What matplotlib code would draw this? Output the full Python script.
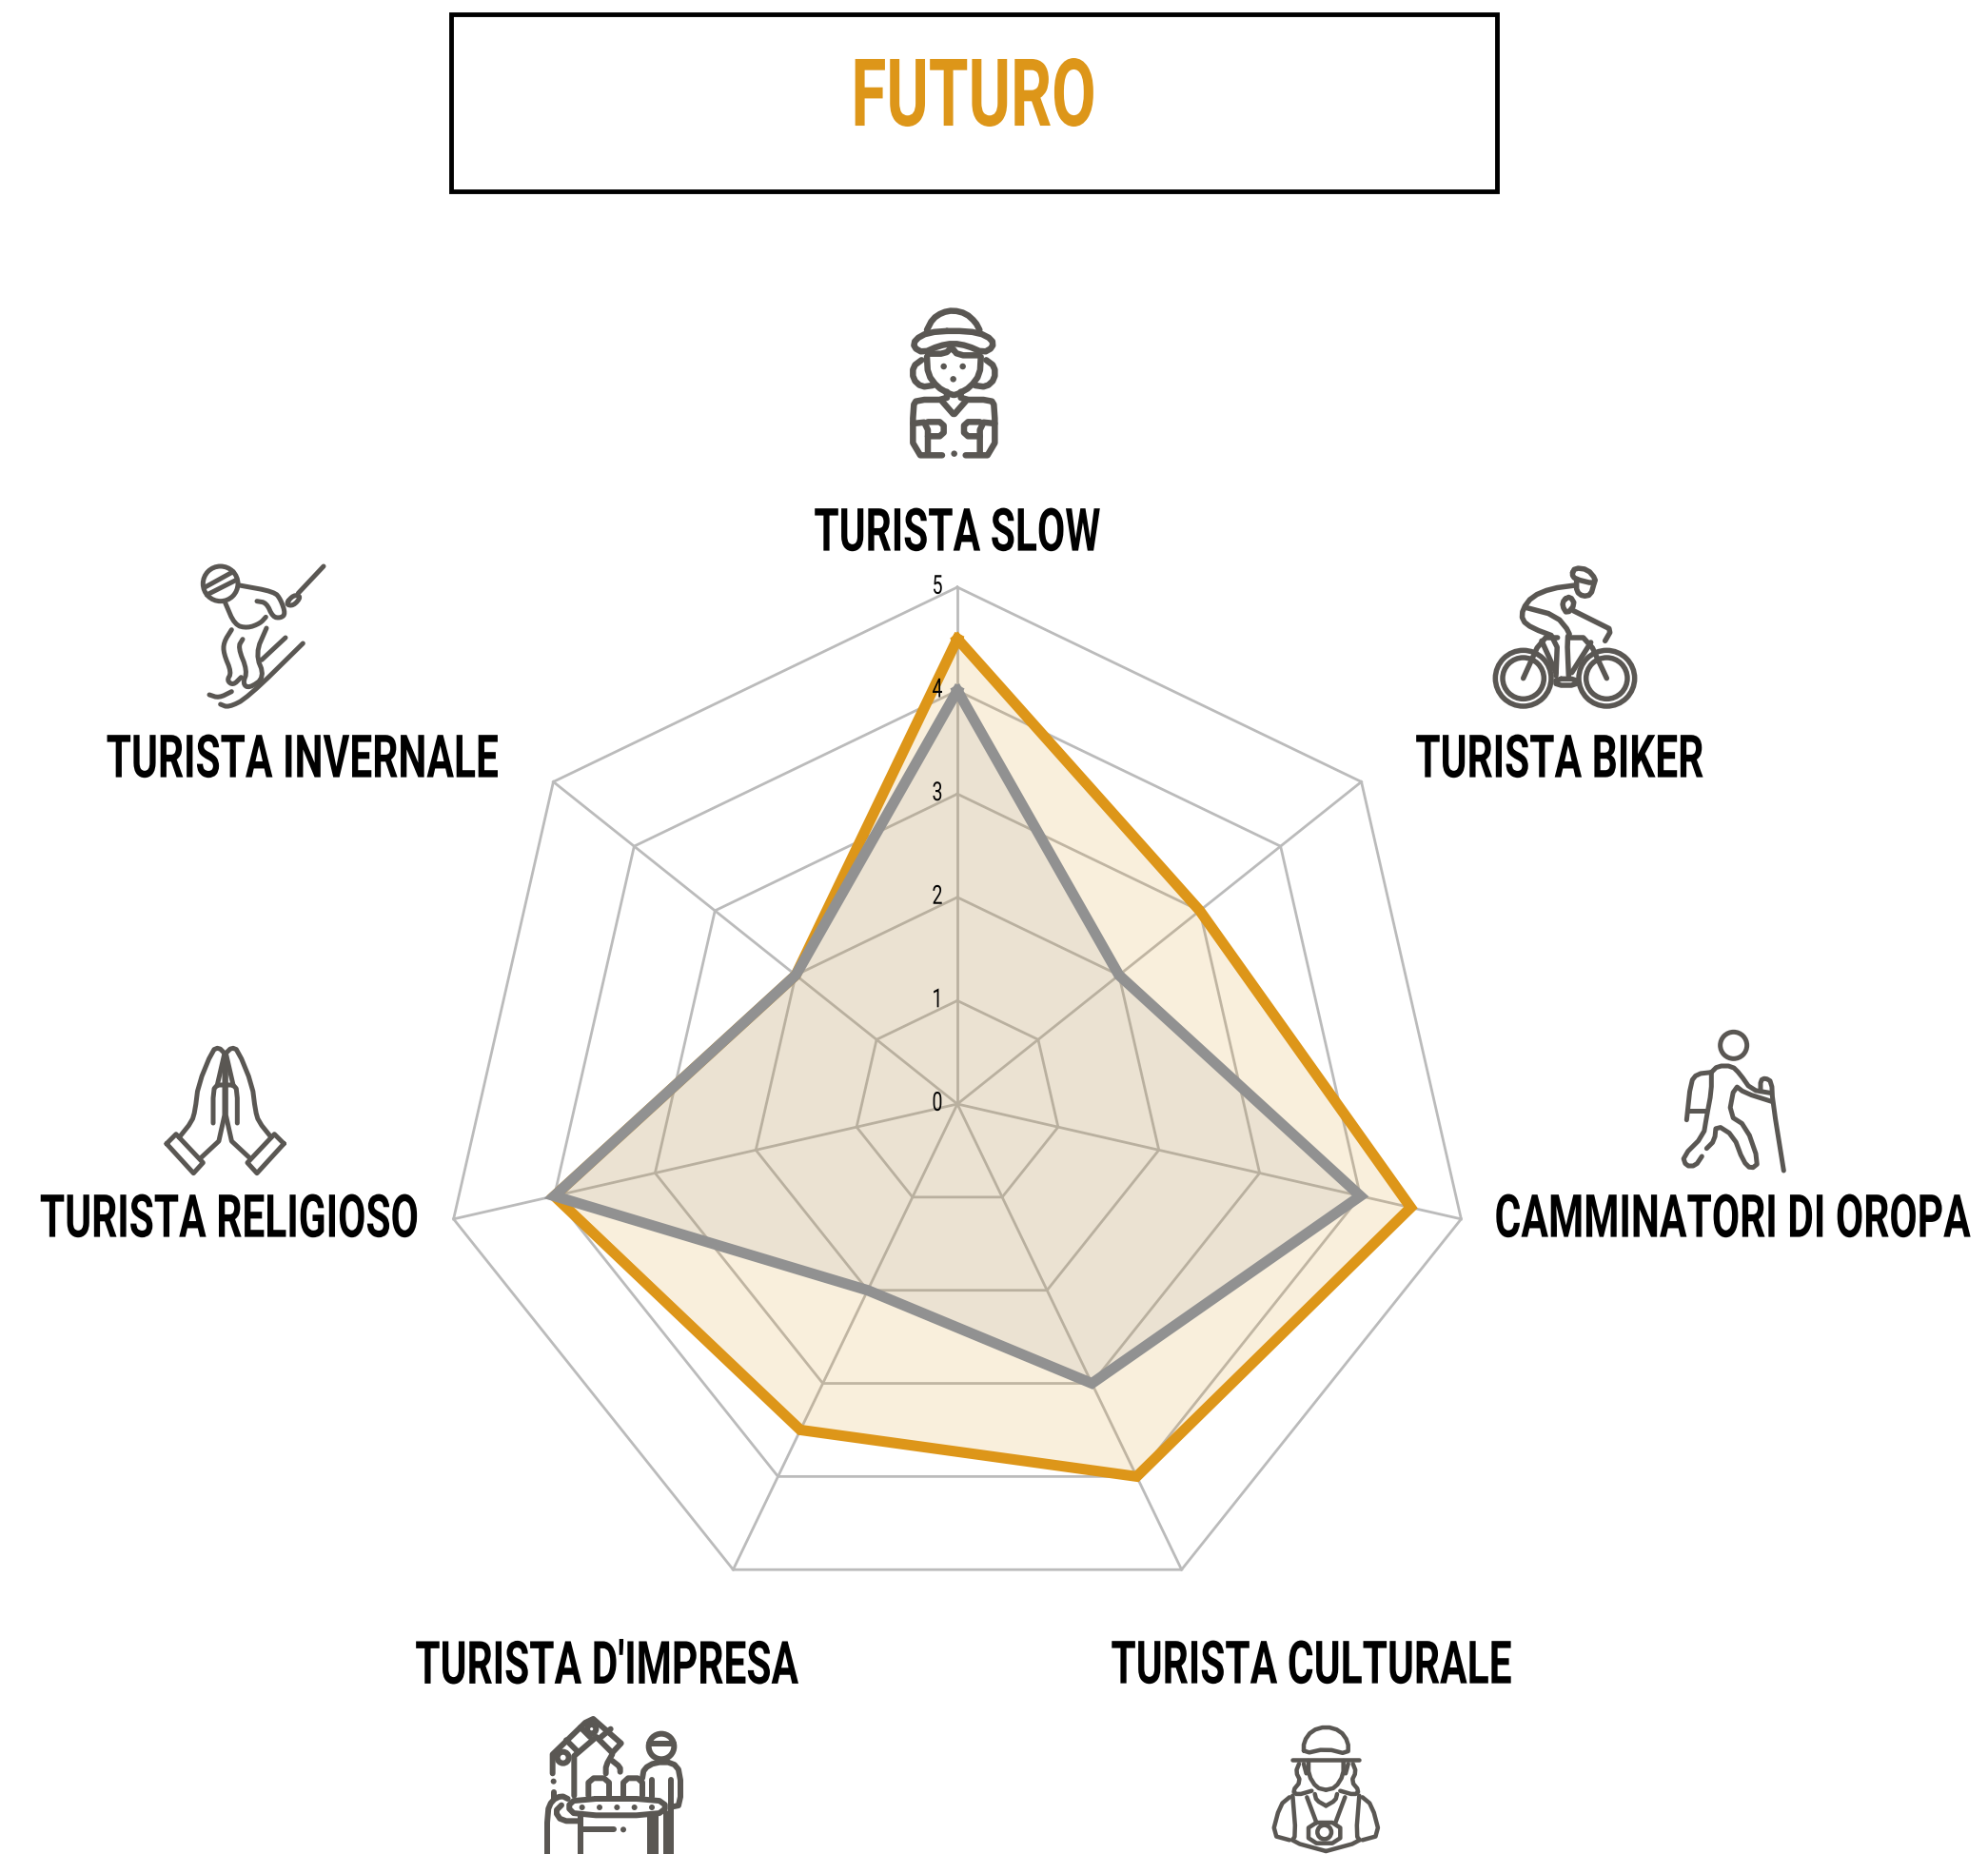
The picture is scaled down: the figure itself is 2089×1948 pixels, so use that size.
import numpy as np
import matplotlib
matplotlib.use('Agg')
import matplotlib.pyplot as plt
from matplotlib.patches import Rectangle, Circle
from matplotlib.patheffects import AbstractPathEffect
from matplotlib.transforms import Affine2D

categories = ['TURISTA SLOW', 'TURISTA BIKER', 'CAMMINATORI DI OROPA', 'TURISTA CULTURALE',
              "TURISTA D'IMPRESA", 'TURISTA RELIGIOSO', 'TURISTA INVERNALE']
futuro = [4.5, 3.0, 4.5, 4.0, 3.5, 4.0, 2.0]
attuale = [4.0, 2.0, 4.0, 3.0, 2.0, 4.0, 2.0]
levels = [0, 1, 2, 3, 4, 5]

# label centres, in pixels of the full picture
label_pos = [(1006, 560), (1639, 798), (1821, 1281), (1378, 1750), (638, 1750), (241, 1281), (318, 798)]

ORANGE = '#DD9619'
GREY = '#919191'
GRID = '#BBBBBB'
ICON = '#5A5753'
FONT = ['Roboto', 'DejaVu Sans']

W, H = 2089, 1948
CX, CY, R = 1006, 1160, 543


class Tall(AbstractPathEffect):
    """Stretch glyphs vertically to get the look of a condensed font, none is installed."""
    def __init__(self, k):
        super().__init__()
        self.k = k

    def draw_path(self, renderer, gc, tpath, affine, rgbFace=None):
        b = tpath.get_extents(affine)
        c = (b.y0 + b.y1) / 2
        t = affine + Affine2D().translate(0, -c).scale(1, self.k).translate(0, c)
        renderer.draw_path(gc, tpath, t, rgbFace)


def chaikin(pts, n=2):
    """Round off a polyline by corner cutting."""
    pts = np.array(pts, dtype=float)
    closed = np.allclose(pts[0], pts[-1])
    for _ in range(n):
        a, b = pts[:-1], pts[1:]
        q = 0.75 * a + 0.25 * b
        r = 0.25 * a + 0.75 * b
        new = np.empty((2 * len(a), 2))
        new[0::2], new[1::2] = q, r
        if closed:
            new = np.vstack([new, new[0]])
        else:
            new = np.vstack([pts[0], new, pts[-1]])
        pts = new
    return pts


def draw_icon(ax, x0, y0, strokes, circles, dots, lw, n=2):
    """Icon outlines are given in 3x zoom coordinates from (x0, y0)."""
    for s in strokes:
        p = chaikin(s, n)
        ax.plot(x0 + p[:, 0] / 3, y0 + p[:, 1] / 3, color=ICON, lw=lw * 0.72,
                solid_capstyle='round', solid_joinstyle='round')
    for cx, cy, r in circles:
        ax.add_patch(Circle((x0 + cx / 3, y0 + cy / 3), r / 3, fill=False, ec=ICON, lw=lw * 0.72))
    for cx, cy in dots:
        ax.add_patch(Circle((x0 + cx / 3, y0 + cy / 3), lw * 0.5, fc=ICON, ec='none'))


def mirror(strokes, c):
    return [[(2 * c - x, y) for x, y in s] for s in strokes]


def icon_slow(ax):
    half = [[(222, 225), (225, 280), (255, 320), (290, 340), (305, 345)],
            [(205, 235), (178, 255), (178, 295), (205, 320), (240, 315)],
            [(285, 335), (285, 360), (190, 360), (178, 380), (178, 535), (270, 535)],
            [(270, 365), (305, 405)],
            [(178, 435), (225, 430), (225, 530)],
            [(225, 430), (275, 430), (275, 475), (225, 475)]]
    strokes = half + mirror(half, 307)
    strokes += [[(222, 140), (240, 105), (270, 85), (305, 78), (345, 88), (375, 115), (388, 140)],
                [(305, 142), (225, 148), (185, 170), (180, 195), (210, 212), (260, 190), (305, 182),
                 (350, 190), (400, 212), (430, 195), (428, 170), (385, 148), (305, 142)],
                [(225, 215), (280, 215), (300, 195), (320, 220), (385, 220)]]
    draw_icon(ax, 900, 300, strokes, [], [(275, 255), (335, 255), (305, 295), (308, 530)], 6.5, n=1)


def icon_ski(ax):
    strokes = [[(108, 140), (195, 92)], [(112, 165), (205, 118)],
               [(215, 135), (325, 155), (345, 180), (360, 225), (345, 238), (320, 235), (300, 190), (270, 185)],
               [(170, 190), (200, 260), (240, 270), (280, 255), (298, 235)],
               [(190, 275), (165, 315), (165, 350), (190, 410), (175, 435), (195, 450), (220, 425)],
               [(225, 305), (210, 330), (240, 405), (225, 445), (245, 460), (295, 425), (265, 350), (300, 270)],
               [(400, 160), (480, 75)],
               [(360, 195), (385, 165), (410, 170), (385, 200), (360, 195)],
               [(120, 480), (150, 490), (190, 470)],
               [(155, 510), (180, 520), (240, 490), (415, 318)],
               [(285, 370), (360, 300)]]
    draw_icon(ax, 180, 570, strokes, [(155, 130, 55)], [], 5)


def icon_bike(ax):
    strokes = [[(335, 100), (345, 80), (385, 85), (410, 115), (405, 130), (345, 115), (335, 100)],
               [(350, 120), (350, 155), (370, 170), (395, 165), (405, 130)],
               [(345, 135), (270, 145), (210, 170), (180, 210), (178, 245), (210, 270), (290, 300), (285, 420)],
               [(190, 205), (285, 230), (330, 285), (320, 300), (325, 420)],
               [(340, 215), (430, 260), (460, 275), (440, 310)],
               [(310, 180), (330, 170), (345, 195), (320, 225), (305, 200), (310, 180)],
               [(330, 300), (385, 300), (445, 428)],
               [(290, 300), (240, 300), (182, 428)],
               [(240, 310), (285, 410)],
               [(335, 410), (395, 315)],
               [(285, 430), (350, 430), (350, 450), (285, 450), (285, 430)]]
    circles = [(182, 428, 88), (182, 428, 65), (445, 428, 88), (445, 428, 65)]
    draw_icon(ax, 1540, 570, strokes, circles, [], 5.5, n=1)


def icon_hike(ax):
    strokes = [[(175, 170), (195, 150), (240, 150), (265, 175), (300, 225), (360, 235)],
               [(175, 170), (175, 230), (160, 310), (150, 370), (85, 435), (95, 465), (125, 465), (145, 435)],
               [(160, 410), (185, 385), (190, 335), (245, 370), (275, 450), (300, 475), (325, 455), (285, 340),
                (230, 305), (248, 210), (280, 235), (365, 262)],
               [(330, 230), (330, 195), (345, 188), (365, 200), (368, 262), (403, 480)],
               [(175, 170), (130, 175), (110, 200), (97, 320)],
               [(105, 290), (155, 290)]]
    draw_icon(ax, 1740, 1070, strokes, [(245, 85, 42)], [], 5, n=1)


def icon_hands(ax):
    half = [[(228, 50), (210, 32), (190, 40), (145, 150), (135, 230), (125, 265), (85, 315)],
            [(228, 50), (228, 310), (155, 378)],
            [(228, 50), (205, 150)],
            [(192, 270), (192, 165), (205, 150), (228, 150)]]
    cuff = [[(45, 335), (75, 305), (160, 395), (130, 428), (45, 335)]]
    draw_icon(ax, 160, 1090, half + mirror(half, 230), [], [], 5, n=1)
    draw_icon(ax, 160, 1090, cuff + mirror(cuff, 230), [], [], 5, n=0)


def icon_factory(ax):
    arm = [[(62, 220), (62, 160), (165, 60), (190, 48), (215, 70), (278, 125), (250, 155), (200, 105),
            (130, 165), (130, 290)]]
    strokes = [[(105, 115), (140, 150)], [(150, 75), (180, 105)], [(215, 105), (245, 80)],
               [(250, 160), (230, 195), (230, 220)],
               [(250, 180), (275, 200), (275, 215)],
               [(175, 290), (175, 235), (240, 235), (240, 290)],
               [(285, 290), (285, 235), (345, 235), (345, 290)],
               [(365, 125), (445, 125)],
               [(345, 235), (350, 205), (385, 185), (440, 185), (465, 215), (465, 320), (440, 325)],
               [(375, 240), (375, 295)], [(435, 240), (435, 480)],
               [(135, 300), (390, 300), (425, 325), (390, 352), (135, 352), (108, 325), (135, 300)],
               [(45, 480), (45, 340), (60, 305), (90, 290), (110, 300)],
               [(90, 320), (70, 340), (90, 370), (150, 370)],
               [(150, 355), (150, 480)], [(370, 355), (370, 480)], [(388, 355), (388, 480)], [(420, 345), (420, 480)],
               [(150, 395), (255, 395)], [(65, 280), (65, 300)]]
    circles = [(185, 80, 14), (95, 170, 18), (405, 135, 40)]
    dots = [(155, 327), (210, 327), (265, 327), (320, 327), (375, 327), (285, 397), (65, 245)]
    draw_icon(ax, 560, 1790, arm, [], [], 6, n=0)
    draw_icon(ax, 560, 1790, strokes, circles, dots, 6, n=1)


def icon_tourist(ax):
    half = [[(165, 150), (165, 195), (190, 235), (220, 242)],
            [(135, 160), (125, 185), (140, 215), (115, 245), (130, 258), (175, 245)],
            [(150, 160), (158, 190)],
            [(185, 255), (190, 275), (220, 292)],
            [(160, 265), (190, 345)],
            [(105, 265), (75, 290), (50, 385), (105, 400)],
            [(115, 260), (125, 385), (110, 405), (220, 435)]]
    strokes = half + mirror(half, 220)
    strokes += [[(150, 128), (150, 90), (175, 55), (220, 42), (265, 55), (290, 90), (290, 130), (220, 112), (150, 128)],
                [(115, 148), (325, 148)],
                [(165, 345), (265, 345), (265, 410), (165, 410), (165, 345)]]
    draw_icon(ax, 1320, 1800, strokes, [(215, 375, 22)], [], 4.5, n=1)


def main():
    fig = plt.figure(figsize=(W / 100, H / 100), dpi=100)

    # radar chart
    ax = fig.add_axes([(CX - R) / W, 1 - (CY + R) / H, 2 * R / W, 2 * R / H], projection='polar')
    ax.set_theta_zero_location('N')
    ax.set_theta_direction(-1)
    ax.set_ylim(0, 5)
    ax.axis('off')

    theta = np.arange(len(categories)) * 2 * np.pi / len(categories)
    closed = np.append(theta, theta[0])

    for lev in levels[1:]:
        ax.plot(closed, [lev] * len(closed), color=GRID, lw=2, clip_on=False, zorder=1)
    for t in theta:
        ax.plot([t, t], [0, 5], color=GRID, lw=2, clip_on=False, zorder=1)

    for vals, col, a, z in [(futuro, ORANGE, 0.15, 3), (attuale, GREY, 0.13, 4)]:
        v = vals + vals[:1]
        ax.fill(closed, v, color=col, alpha=a, lw=0, zorder=2)
        ax.plot(closed, v, color=col, lw=8, solid_joinstyle='miter', clip_on=False, zorder=z)

    offset = Affine2D().translate(-21, 1)
    for lev in levels:
        ax.text(0, lev, str(lev), ha='center', va='center', fontsize=14, family=FONT, color='black', zorder=5,
                clip_on=False, transform=ax.transData + offset, path_effects=[Tall(1.42)])

    # overlay in pixel coordinates for box, labels and icons
    over = fig.add_axes([0, 0, 1, 1], facecolor='none')
    over.set_xlim(0, W)
    over.set_ylim(H, 0)
    over.axis('off')

    over.add_patch(Rectangle((474, 15), 1099, 186, fill=False, ec='black', lw=3.5))
    over.text(1023, 103, 'FUTURO', color=ORANGE, fontsize=48.6, fontweight='bold', family=FONT,
              ha='center', va='center', path_effects=[Tall(1.46)])

    for name, (x, y) in zip(categories, label_pos):
        over.text(x, y, name, color='black', fontsize=30.6, fontweight='bold', family=FONT,
                  ha='center', va='center', path_effects=[Tall(1.47)])

    for icon in [icon_slow, icon_ski, icon_bike, icon_hike, icon_hands, icon_factory, icon_tourist]:
        icon(over)
    over.set_xlim(0, W)
    over.set_ylim(H, 0)

    fig.savefig('out.png', dpi=100, facecolor='white')


if __name__ == "__main__":
    main()
